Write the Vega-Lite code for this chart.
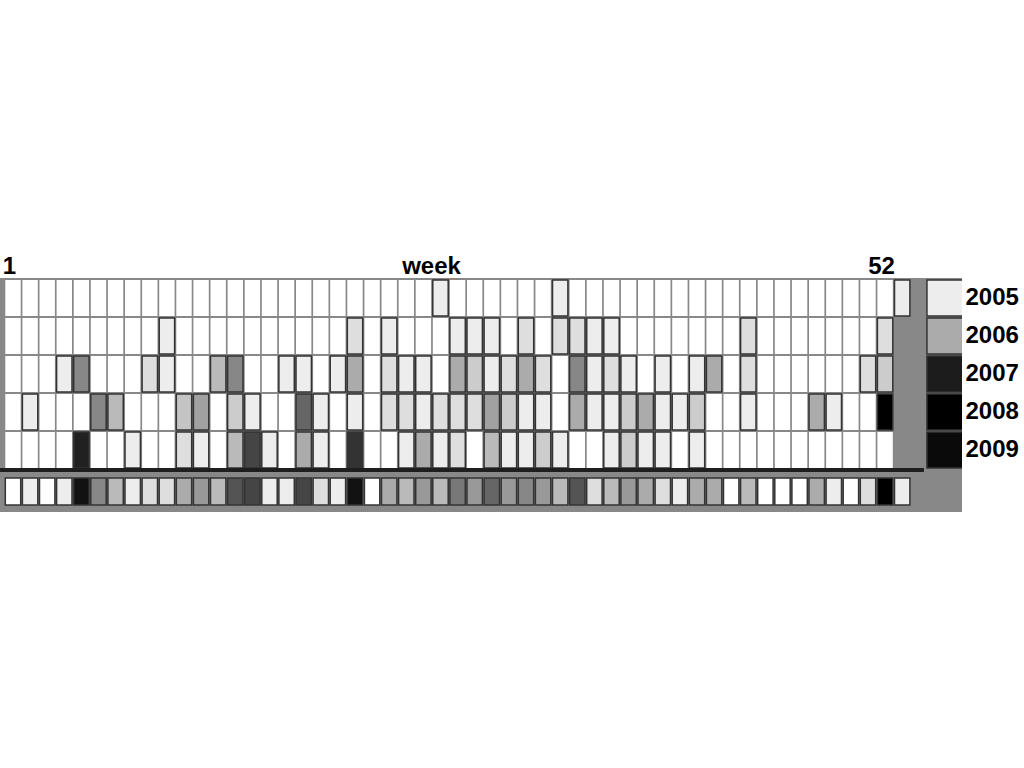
{
  "$schema": "https://vega.github.io/schema/vega-lite/v6.json",
  "width": 962,
  "height": 234,
  "autosize": {"type": "none"},
  "padding": {"left": 0, "top": 278, "right": 62, "bottom": 256},
  "background": "#ffffff",
  "view": {"fill": "#888888", "stroke": null},
  "datasets": {
    "cells": [
      {"year":"2005","week":1,"value":0},{"year":"2005","week":2,"value":0},{"year":"2005","week":3,"value":0},{"year":"2005","week":4,"value":0},{"year":"2005","week":5,"value":0},{"year":"2005","week":6,"value":0},{"year":"2005","week":7,"value":0},{"year":"2005","week":8,"value":0},{"year":"2005","week":9,"value":0},{"year":"2005","week":10,"value":0},
      {"year":"2005","week":11,"value":0},{"year":"2005","week":12,"value":0},{"year":"2005","week":13,"value":0},{"year":"2005","week":14,"value":0},{"year":"2005","week":15,"value":0},{"year":"2005","week":16,"value":0},{"year":"2005","week":17,"value":0},{"year":"2005","week":18,"value":0},{"year":"2005","week":19,"value":0},{"year":"2005","week":20,"value":0},
      {"year":"2005","week":21,"value":0},{"year":"2005","week":22,"value":0},{"year":"2005","week":23,"value":0},{"year":"2005","week":24,"value":0},{"year":"2005","week":25,"value":0},{"year":"2005","week":26,"value":7},{"year":"2005","week":27,"value":0},{"year":"2005","week":28,"value":0},{"year":"2005","week":29,"value":0},{"year":"2005","week":30,"value":0},
      {"year":"2005","week":31,"value":0},{"year":"2005","week":32,"value":0},{"year":"2005","week":33,"value":7},{"year":"2005","week":34,"value":0},{"year":"2005","week":35,"value":0},{"year":"2005","week":36,"value":0},{"year":"2005","week":37,"value":0},{"year":"2005","week":38,"value":0},{"year":"2005","week":39,"value":0},{"year":"2005","week":40,"value":0},
      {"year":"2005","week":41,"value":0},{"year":"2005","week":42,"value":0},{"year":"2005","week":43,"value":0},{"year":"2005","week":44,"value":0},{"year":"2005","week":45,"value":0},{"year":"2005","week":46,"value":0},{"year":"2005","week":47,"value":0},{"year":"2005","week":48,"value":0},{"year":"2005","week":49,"value":0},{"year":"2005","week":50,"value":0},
      {"year":"2005","week":51,"value":0},{"year":"2005","week":52,"value":0},{"year":"2005","week":53,"value":7},

      {"year":"2006","week":1,"value":0},{"year":"2006","week":2,"value":0},{"year":"2006","week":3,"value":0},{"year":"2006","week":4,"value":0},{"year":"2006","week":5,"value":0},{"year":"2006","week":6,"value":0},{"year":"2006","week":7,"value":0},{"year":"2006","week":8,"value":0},{"year":"2006","week":9,"value":0},{"year":"2006","week":10,"value":7},
      {"year":"2006","week":11,"value":0},{"year":"2006","week":12,"value":0},{"year":"2006","week":13,"value":0},{"year":"2006","week":14,"value":0},{"year":"2006","week":15,"value":0},{"year":"2006","week":16,"value":0},{"year":"2006","week":17,"value":0},{"year":"2006","week":18,"value":0},{"year":"2006","week":19,"value":0},{"year":"2006","week":20,"value":0},
      {"year":"2006","week":21,"value":13},{"year":"2006","week":22,"value":0},{"year":"2006","week":23,"value":7},{"year":"2006","week":24,"value":0},{"year":"2006","week":25,"value":0},{"year":"2006","week":26,"value":0},{"year":"2006","week":27,"value":7},{"year":"2006","week":28,"value":7},{"year":"2006","week":29,"value":7},{"year":"2006","week":30,"value":0},
      {"year":"2006","week":31,"value":13},{"year":"2006","week":32,"value":0},{"year":"2006","week":33,"value":13},{"year":"2006","week":34,"value":13},{"year":"2006","week":35,"value":7},{"year":"2006","week":36,"value":7},{"year":"2006","week":37,"value":0},{"year":"2006","week":38,"value":0},{"year":"2006","week":39,"value":0},{"year":"2006","week":40,"value":0},
      {"year":"2006","week":41,"value":0},{"year":"2006","week":42,"value":0},{"year":"2006","week":43,"value":0},{"year":"2006","week":44,"value":13},{"year":"2006","week":45,"value":0},{"year":"2006","week":46,"value":0},{"year":"2006","week":47,"value":0},{"year":"2006","week":48,"value":0},{"year":"2006","week":49,"value":0},{"year":"2006","week":50,"value":0},
      {"year":"2006","week":51,"value":0},{"year":"2006","week":52,"value":13},

      {"year":"2007","week":1,"value":0},{"year":"2007","week":2,"value":0},{"year":"2007","week":3,"value":0},{"year":"2007","week":4,"value":7},{"year":"2007","week":5,"value":47},{"year":"2007","week":6,"value":0},{"year":"2007","week":7,"value":0},{"year":"2007","week":8,"value":0},{"year":"2007","week":9,"value":13},{"year":"2007","week":10,"value":7},
      {"year":"2007","week":11,"value":0},{"year":"2007","week":12,"value":0},{"year":"2007","week":13,"value":27},{"year":"2007","week":14,"value":47},{"year":"2007","week":15,"value":0},{"year":"2007","week":16,"value":0},{"year":"2007","week":17,"value":7},{"year":"2007","week":18,"value":7},{"year":"2007","week":19,"value":0},{"year":"2007","week":20,"value":7},
      {"year":"2007","week":21,"value":33},{"year":"2007","week":22,"value":0},{"year":"2007","week":23,"value":13},{"year":"2007","week":24,"value":7},{"year":"2007","week":25,"value":7},{"year":"2007","week":26,"value":0},{"year":"2007","week":27,"value":33},{"year":"2007","week":28,"value":20},{"year":"2007","week":29,"value":7},{"year":"2007","week":30,"value":13},
      {"year":"2007","week":31,"value":33},{"year":"2007","week":32,"value":13},{"year":"2007","week":33,"value":0},{"year":"2007","week":34,"value":47},{"year":"2007","week":35,"value":7},{"year":"2007","week":36,"value":13},{"year":"2007","week":37,"value":7},{"year":"2007","week":38,"value":0},{"year":"2007","week":39,"value":7},{"year":"2007","week":40,"value":0},
      {"year":"2007","week":41,"value":7},{"year":"2007","week":42,"value":33},{"year":"2007","week":43,"value":0},{"year":"2007","week":44,"value":13},{"year":"2007","week":45,"value":0},{"year":"2007","week":46,"value":0},{"year":"2007","week":47,"value":0},{"year":"2007","week":48,"value":0},{"year":"2007","week":49,"value":0},{"year":"2007","week":50,"value":0},
      {"year":"2007","week":51,"value":13},{"year":"2007","week":52,"value":20},

      {"year":"2008","week":1,"value":0},{"year":"2008","week":2,"value":7},{"year":"2008","week":3,"value":0},{"year":"2008","week":4,"value":0},{"year":"2008","week":5,"value":0},{"year":"2008","week":6,"value":47},{"year":"2008","week":7,"value":27},{"year":"2008","week":8,"value":0},{"year":"2008","week":9,"value":0},{"year":"2008","week":10,"value":0},
      {"year":"2008","week":11,"value":23},{"year":"2008","week":12,"value":37},{"year":"2008","week":13,"value":0},{"year":"2008","week":14,"value":20},{"year":"2008","week":15,"value":7},{"year":"2008","week":16,"value":0},{"year":"2008","week":17,"value":0},{"year":"2008","week":18,"value":60},{"year":"2008","week":19,"value":7},{"year":"2008","week":20,"value":0},
      {"year":"2008","week":21,"value":7},{"year":"2008","week":22,"value":0},{"year":"2008","week":23,"value":13},{"year":"2008","week":24,"value":13},{"year":"2008","week":25,"value":7},{"year":"2008","week":26,"value":13},{"year":"2008","week":27,"value":13},{"year":"2008","week":28,"value":13},{"year":"2008","week":29,"value":37},{"year":"2008","week":30,"value":20},
      {"year":"2008","week":31,"value":7},{"year":"2008","week":32,"value":7},{"year":"2008","week":33,"value":0},{"year":"2008","week":34,"value":33},{"year":"2008","week":35,"value":7},{"year":"2008","week":36,"value":7},{"year":"2008","week":37,"value":20},{"year":"2008","week":38,"value":33},{"year":"2008","week":39,"value":7},{"year":"2008","week":40,"value":7},
      {"year":"2008","week":41,"value":20},{"year":"2008","week":42,"value":0},{"year":"2008","week":43,"value":0},{"year":"2008","week":44,"value":7},{"year":"2008","week":45,"value":0},{"year":"2008","week":46,"value":0},{"year":"2008","week":47,"value":0},{"year":"2008","week":48,"value":33},{"year":"2008","week":49,"value":7},{"year":"2008","week":50,"value":0},
      {"year":"2008","week":51,"value":0},{"year":"2008","week":52,"value":100},

      {"year":"2009","week":1,"value":0},{"year":"2009","week":2,"value":0},{"year":"2009","week":3,"value":0},{"year":"2009","week":4,"value":0},{"year":"2009","week":5,"value":87},{"year":"2009","week":6,"value":0},{"year":"2009","week":7,"value":0},{"year":"2009","week":8,"value":7},{"year":"2009","week":9,"value":0},{"year":"2009","week":10,"value":0},
      {"year":"2009","week":11,"value":13},{"year":"2009","week":12,"value":7},{"year":"2009","week":13,"value":0},{"year":"2009","week":14,"value":27},{"year":"2009","week":15,"value":73},{"year":"2009","week":16,"value":7},{"year":"2009","week":17,"value":0},{"year":"2009","week":18,"value":33},{"year":"2009","week":19,"value":7},{"year":"2009","week":20,"value":0},
      {"year":"2009","week":21,"value":80},{"year":"2009","week":22,"value":0},{"year":"2009","week":23,"value":0},{"year":"2009","week":24,"value":7},{"year":"2009","week":25,"value":33},{"year":"2009","week":26,"value":7},{"year":"2009","week":27,"value":13},{"year":"2009","week":28,"value":0},{"year":"2009","week":29,"value":27},{"year":"2009","week":30,"value":7},
      {"year":"2009","week":31,"value":7},{"year":"2009","week":32,"value":20},{"year":"2009","week":33,"value":7},{"year":"2009","week":34,"value":0},{"year":"2009","week":35,"value":0},{"year":"2009","week":36,"value":7},{"year":"2009","week":37,"value":20},{"year":"2009","week":38,"value":7},{"year":"2009","week":39,"value":7},{"year":"2009","week":40,"value":0},
      {"year":"2009","week":41,"value":7},{"year":"2009","week":42,"value":0},{"year":"2009","week":43,"value":0},{"year":"2009","week":44,"value":0},{"year":"2009","week":45,"value":0},{"year":"2009","week":46,"value":0},{"year":"2009","week":47,"value":0},{"year":"2009","week":48,"value":0},{"year":"2009","week":49,"value":0},{"year":"2009","week":50,"value":0},
      {"year":"2009","week":51,"value":0},{"year":"2009","week":52,"value":0}
    ],
    "total": [
      {"year":"all","week":1,"value":0},{"year":"all","week":2,"value":7},{"year":"all","week":3,"value":0},{"year":"all","week":4,"value":7},{"year":"all","week":5,"value":93},{"year":"all","week":6,"value":47},{"year":"all","week":7,"value":27},{"year":"all","week":8,"value":7},{"year":"all","week":9,"value":13},{"year":"all","week":10,"value":13},
      {"year":"all","week":11,"value":33},{"year":"all","week":12,"value":40},{"year":"all","week":13,"value":27},{"year":"all","week":14,"value":67},{"year":"all","week":15,"value":73},{"year":"all","week":16,"value":7},{"year":"all","week":17,"value":7},{"year":"all","week":18,"value":73},{"year":"all","week":19,"value":13},{"year":"all","week":20,"value":7},
      {"year":"all","week":21,"value":93},{"year":"all","week":22,"value":0},{"year":"all","week":23,"value":33},{"year":"all","week":24,"value":27},{"year":"all","week":25,"value":40},{"year":"all","week":26,"value":27},{"year":"all","week":27,"value":53},{"year":"all","week":28,"value":40},{"year":"all","week":29,"value":60},{"year":"all","week":30,"value":40},
      {"year":"all","week":31,"value":47},{"year":"all","week":32,"value":40},{"year":"all","week":33,"value":27},{"year":"all","week":34,"value":67},{"year":"all","week":35,"value":13},{"year":"all","week":36,"value":27},{"year":"all","week":37,"value":40},{"year":"all","week":38,"value":33},{"year":"all","week":39,"value":13},{"year":"all","week":40,"value":7},
      {"year":"all","week":41,"value":33},{"year":"all","week":42,"value":33},{"year":"all","week":43,"value":0},{"year":"all","week":44,"value":27},{"year":"all","week":45,"value":0},{"year":"all","week":46,"value":0},{"year":"all","week":47,"value":0},{"year":"all","week":48,"value":33},{"year":"all","week":49,"value":7},{"year":"all","week":50,"value":0},
      {"year":"all","week":51,"value":13},{"year":"all","week":52,"value":100},{"year":"all","week":53,"value":7}
    ],
    "yearly": [
      {"year":"2005","value":7},{"year":"2006","value":33},{"year":"2007","value":89},{"year":"2008","value":100},{"year":"2009","value":96}
    ]
  },
  "layer": [
    {
      "data": {"name": "cells"},
      "mark": {"type": "bar", "orient": "vertical", "width": 15.4, "stroke": "#333333", "strokeWidth": 1.5},
      "encoding": {
        "x": {
          "field": "week", "type": "quantitative", "stack": null,
          "scale": {"domain": [0.2398, 56.497], "nice": false, "zero": false, "padding": 0},
          "axis": {
            "orient": "top", "values": [1, 52], "format": "d",
            "domain": false, "ticks": false, "tickSize": 0, "grid": false,
            "labelPadding": 5, "labelBaseline": "alphabetic", "labelOffset": -4,
            "labelFont": "Liberation Sans", "labelFontSize": 24, "labelFontWeight": "bold", "labelColor": "#000000",
            "title": "week", "titleX": 431, "titleY": -5, "titleAlign": "center", "titleBaseline": "alphabetic",
            "titleFont": "Liberation Sans", "titleFontSize": 24, "titleFontWeight": "bold", "titleColor": "#000000"
          }
        },
        "y": {
          "field": "year", "type": "nominal",
          "scale": {"domain": ["2005","2006","2007","2008","2009","all"], "paddingInner": 0.0526, "paddingOuter": 0.105, "align": 0.25},
          "axis": {
            "orient": "right", "values": ["2005","2006","2007","2008","2009"],
            "domain": false, "ticks": false, "tickSize": 0, "grid": false,
            "labelPadding": 3, "labelAlign": "left", "labelBaseline": "middle",
            "labelFont": "Liberation Sans", "labelFontSize": 24, "labelFontWeight": "bold", "labelColor": "#000000",
            "title": null
          }
        },
        "fill": {
          "field": "value", "type": "quantitative",
          "scale": {"domain": [0, 100], "range": ["#ffffff", "#000000"], "interpolate": "rgb"},
          "legend": null
        },
        "strokeOpacity": {"condition": {"test": "datum.value > 0", "value": 1}, "value": 0}
      }
    },
    {
      "data": {"name": "total"},
      "mark": {"type": "bar", "orient": "vertical", "width": 15.4, "height": 27, "yOffset": 3.5, "stroke": "#333333", "strokeWidth": 1.5},
      "encoding": {
        "x": {"field": "week", "type": "quantitative", "stack": null},
        "y": {"field": "year", "type": "nominal"},
        "fill": {"field": "value", "type": "quantitative"}
      }
    },
    {
      "data": {"name": "yearly"},
      "mark": {"type": "bar", "orient": "vertical", "width": 36, "clip": true, "stroke": "#333333", "strokeWidth": 1.5},
      "encoding": {
        "x": {"datum": 55.5, "type": "quantitative"},
        "y": {"field": "year", "type": "nominal"},
        "fill": {"field": "value", "type": "quantitative"}
      }
    },
    {
      "data": {"values": [{"line": "separator"}]},
      "mark": {"type": "rule", "stroke": "#1e1e1e", "strokeWidth": 4},
      "encoding": {
        "x": {"datum": 0.2398, "type": "quantitative"},
        "x2": {"datum": 54.27},
        "y": {"datum": "all", "type": "nominal", "bandPosition": 0}
      }
    }
  ]
}
